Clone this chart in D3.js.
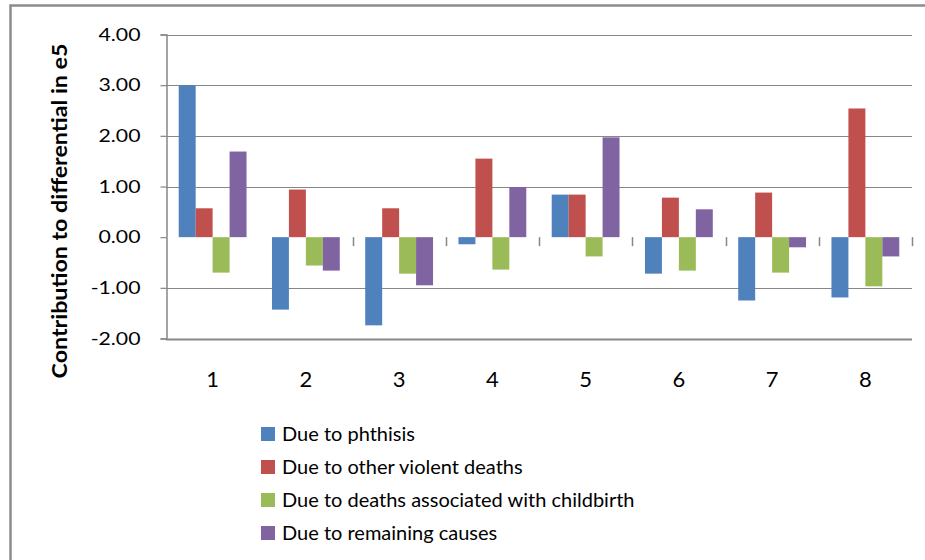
<!DOCTYPE html>
<html>
<head>
<meta charset="utf-8">
<script src="https://cdn.jsdelivr.net/npm/d3@7"></script>
<style>
  body { margin: 0; background: #fff; }
  svg { display: block; }
  text { font-family: Lato, "Open Sans", sans-serif; fill: #000; }
</style>
</head>
<body>
<div id="chart"></div>
<script>
  'use strict';

  var categories = ['1', '2', '3', '4', '5', '6', '7', '8'];
  var seriesNames = [
    'Due to phthisis',
    'Due to other violent deaths',
    'Due to deaths associated with childbirth',
    'Due to remaining causes'
  ];
  var phthisis = [3.00, -1.43, -1.74, -0.14, 0.84, -0.72, -1.25, -1.19];
  var violent = [0.57, 0.94, 0.57, 1.55, 0.84, 0.78, 0.88, 2.54];
  var childbirth = [-0.70, -0.56, -0.72, -0.64, -0.38, -0.66, -0.70, -0.97];
  var remaining = [1.69, -0.66, -0.95, 0.99, 1.97, 0.55, -0.20, -0.38];
  var yTicks = [-2, -1, 0, 1, 2, 3, 4];
  var colors = ['#4f81bd', '#c0504d', '#9bbb59', '#8064a2'];

  var width = 925, height = 560;
  var plot = {left: 166, right: 912, top: 34.5, bottom: 338.5};

  var series = [phthisis, violent, childbirth, remaining];

  // the source picture is a little stretched sideways, so widen text to suit
  function stretch(sel, factor) {
    sel.each(function() {
      var w = this.getComputedTextLength();
      d3.select(this)
        .attr('textLength', w * factor)
        .attr('lengthAdjust', 'spacingAndGlyphs');
    });
  }

  var svg = d3.select('#chart').append('svg')
    .attr('width', width)
    .attr('height', height);

  // outer frame (only top and left edges show in the picture)
  svg.append('path')
    .attr('d', 'M10.5,' + height + 'V5.5H' + width)
    .attr('fill', 'none')
    .attr('stroke', '#8c8c8c')
    .attr('stroke-width', 2.5);

  var x = d3.scaleBand()
    .domain(categories)
    .range([plot.left, plot.right]);

  var barWidth = x.bandwidth() / 5.5;
  var x1 = d3.scaleBand()
    .domain(d3.range(series.length))
    .range([0, barWidth * series.length]);

  var y = d3.scaleLinear()
    .domain([-2, 4])
    .range([plot.bottom, plot.top]);

  // gridlines
  svg.append('g')
    .selectAll('line')
    .data(yTicks.filter(function(d) { return d !== 0; }))
    .join('line')
    .attr('x1', plot.left)
    .attr('x2', plot.right)
    .attr('y1', function(d) { return Math.round(y(d)) + 0.5; })
    .attr('y2', function(d) { return Math.round(y(d)) + 0.5; })
    .attr('stroke', '#878787')
    .attr('stroke-width', function(d) { return d === -2 ? 2 : 1.2; });

  // y axis
  var yAxis = d3.axisLeft(y)
    .tickValues(yTicks)
    .tickFormat(function(d) { return d.toFixed(2); })
    .tickSize(6)
    .tickPadding(20);

  var gy = svg.append('g')
    .attr('transform', 'translate(' + (plot.left + 0.5) + ',0)')
    .call(yAxis);
  gy.select('.domain').attr('stroke', '#878787').attr('stroke-width', 1.5);
  gy.selectAll('.tick line').attr('stroke', '#878787').attr('stroke-width', 1.2);
  gy.selectAll('.tick text')
    .attr('font-family', 'Lato, sans-serif')
    .attr('font-size', 18)
    .attr('fill', '#222')
    .call(stretch, 1.18);

  // category tick marks just under the zero line
  svg.append('g')
    .selectAll('line')
    .data(categories.slice(1))
    .join('line')
    .attr('x1', function(d) { return Math.round(x(d) + x.bandwidth()) + 0.5; })
    .attr('x2', function(d) { return Math.round(x(d) + x.bandwidth()) + 0.5; })
    .attr('y1', y(0))
    .attr('y2', y(0) + 9)
    .attr('stroke', '#878787')
    .attr('stroke-width', 1.5);

  // bars
  var groups = svg.append('g')
    .selectAll('g')
    .data(categories)
    .join('g')
    .attr('transform', function(d) {
      return 'translate(' + (x(d) + (x.bandwidth() - barWidth * series.length) / 2) + ',0)';
    });

  groups.selectAll('rect')
    .data(function(d, i) {
      return series.map(function(s, k) { return {k: k, v: s[i]}; });
    })
    .join('rect')
    .attr('x', function(d) { return x1(d.k); })
    .attr('width', x1.bandwidth())
    .attr('y', function(d) { return y(Math.max(0, d.v)); })
    .attr('height', function(d) { return Math.abs(y(d.v) - y(0)); })
    .attr('fill', function(d) { return colors[d.k]; });

  // x labels
  svg.append('g')
    .selectAll('text')
    .data(categories)
    .join('text')
    .attr('x', function(d) { return x(d) + x.bandwidth() / 2; })
    .attr('y', 387)
    .attr('text-anchor', 'middle')
    .attr('font-size', 22)
    .attr('fill', '#222')
    .text(function(d) { return d; });

  // y title
  svg.append('text')
    .attr('transform', 'translate(67,211) rotate(-90)')
    .attr('text-anchor', 'middle')
    .attr('font-size', 20)
    .attr('font-weight', 'bold')
    .attr('textLength', 335)
    .attr('lengthAdjust', 'spacingAndGlyphs')
    .text('Contribution to differential in e5');

  // legend
  var legend = svg.append('g')
    .selectAll('g')
    .data(seriesNames)
    .join('g')
    .attr('transform', function(d, i) { return 'translate(261,' + (434 + i * 33) + ')'; });

  legend.append('rect')
    .attr('x', 0)
    .attr('y', -7)
    .attr('width', 14)
    .attr('height', 14)
    .attr('fill', function(d, i) { return colors[i]; });

  legend.append('text')
    .attr('x', 21)
    .attr('y', 7)
    .attr('font-size', 20)
    .text(function(d) { return d; });
</script>
</body>
</html>
